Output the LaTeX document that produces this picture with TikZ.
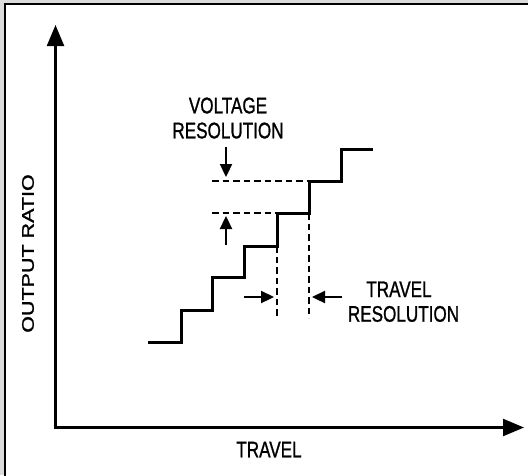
\documentclass[tikz,border=0pt]{standalone}
\usepackage{fontspec}
\usepackage{graphicx}
\setmainfont{Liberation Sans}
\newfontfamily\lblfont{Liberation Sans}[RawFeature={embolden=1.2}]
\usetikzlibrary{arrows.meta}
\begin{document}
\begin{tikzpicture}[x=1pt,y=-1pt,
  axis/.style={line width=2.3pt,-{Triangle[length=21pt,width=17pt]}},
  stair/.style={line width=3pt},
  guide/.style={line width=2.6pt,dash pattern=on 6.5pt off 4pt},
  marker/.style={line width=2.3pt,-{Triangle[length=13pt,width=12pt]}},
  lbl/.style={inner sep=0pt,anchor=base,font=\lblfont\fontsize{22.5}{24}\selectfont},
]
\useasboundingbox (0,0) rectangle (528,475);
\clip (0,0) rectangle (528,475);
\fill[black!14] (0,0) rectangle (528,475);
\draw[line width=2pt,fill=white] (5,4) rectangle (540,490);
% axes
\coordinate (yb) at (55.5,428.5);
\coordinate (ytip) at (55.5,25);
\coordinate (xb) at (54.5,427.5);
\coordinate (xtip) at (524,427.5);
\draw[axis] (yb) -- (ytip);
\draw[axis] (xb) -- (xtip);
% staircase
\coordinate (s0) at (148,342);
\coordinate (s1) at (181,342);
\coordinate (s2) at (181,310);
\coordinate (s3) at (212,310);
\coordinate (s4) at (212,277);
\coordinate (s5) at (244,277);
\coordinate (s6) at (244,246);
\coordinate (s7) at (277,246);
\coordinate (s8) at (277,213);
\coordinate (s9) at (309,213);
\coordinate (s10) at (309,181);
\coordinate (s11) at (341,181);
\coordinate (s12) at (341,149);
\coordinate (s13) at (373,149);
\draw[stair,line join=miter] (s0) -- (s1) -- (s2) -- (s3) -- (s4) -- (s5) -- (s6) -- (s7) -- (s8) -- (s9) -- (s10) -- (s11) -- (s12) -- (s13);
% dashed guides
\coordinate (h1) at (212,181);
\coordinate (h2) at (212,213);
\coordinate (v1) at (277,318);
\coordinate (v2) at (309,318);
\draw[guide] (h1) -- (s10);
\draw[guide] (h2) -- (s8);
\draw[guide] (s7) -- (v1);
\draw[guide] (s9) -- (v2);
% resolution markers
\coordinate (d0) at (226,147);
\coordinate (d1) at (226,177);
\coordinate (u0) at (226,245);
\coordinate (u1) at (226,216);
\coordinate (r0) at (244,297);
\coordinate (r1) at (274,297);
\coordinate (l0) at (342,297);
\coordinate (l1) at (312,297);
\draw[marker] (d0) -- (d1);
\draw[marker] (u0) -- (u1);
\draw[marker] (r0) -- (r1);
\draw[marker] (l0) -- (l1);
% labels
\node[lbl] (vt1) at (228,113.3) {\scalebox{0.76}[1]{VOLTAGE}};
\node[lbl] (vt2) at (228,138.3) {\scalebox{0.76}[1]{RESOLUTION}};
\node[lbl] (tr1) at (399,297) {\scalebox{0.76}[1]{TRAVEL}};
\node[lbl] (tr2) at (403.5,321.7) {\scalebox{0.76}[1]{RESOLUTION}};
\node[lbl] (xl) at (269,457.3) {\scalebox{0.76}[1]{TRAVEL}};
\node[inner sep=0pt,font=\lblfont\fontsize{21.5}{24}\selectfont] (yl) at (28,253.5) {\rotatebox{90}{\scalebox{1}[0.78]{OUTPUT RATIO}}};
\end{tikzpicture}
\end{document}
